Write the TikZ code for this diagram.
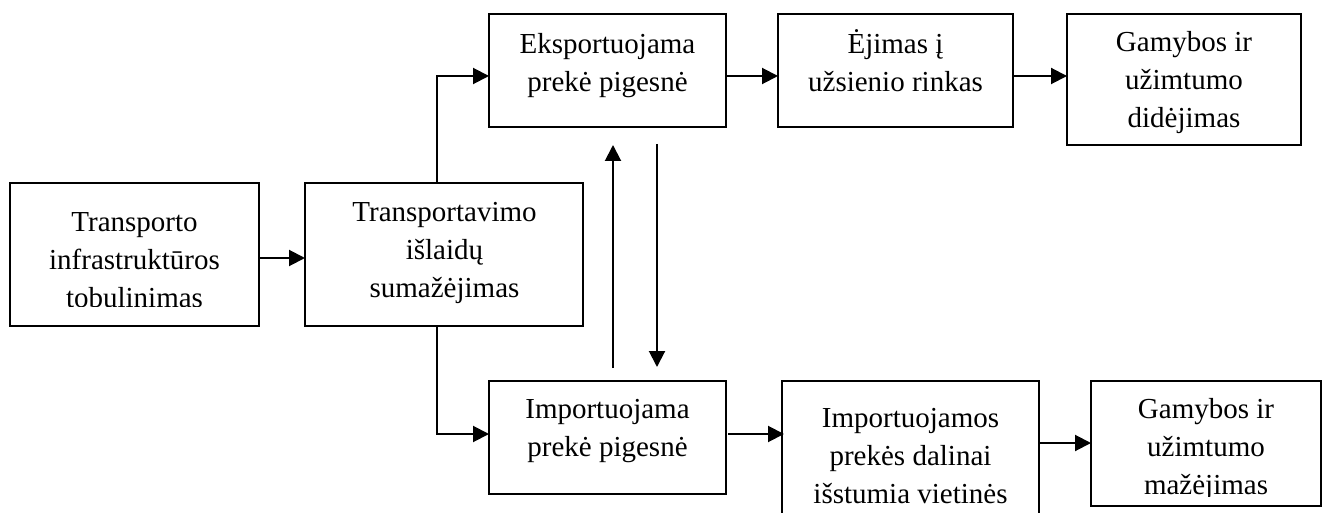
\documentclass[tikz,border=0pt]{standalone}
\usepackage{fontspec}
\setmainfont{Liberation Serif}
\usetikzlibrary{arrows.meta}
\tikzset{
  box/.style={draw, line width=1.6pt, inner sep=0pt, outer sep=0pt, rectangle},
  txt/.style={inner sep=0pt, outer sep=0pt, anchor=base, font=\fontsize{29}{38}\selectfont},
  arr/.style={line width=2pt, -{Triangle[length=16pt,width=16pt]}},
}
\newcommand{\lines}[1]{\begin{tabular}[t]{@{}c@{}}#1\end{tabular}}
\begin{document}
\begin{tikzpicture}[x=1pt,y=1pt]
\useasboundingbox (0,0) rectangle (1322,-513);
\clip (0,0) rectangle (1322,-513);
% boxes
\node[box, minimum width=249pt, minimum height=143pt] (b1) at (134.5,-254.5) {};
\node[box, minimum width=278pt, minimum height=143pt] (b2) at (444,-254.5) {};
\node[box, minimum width=237pt, minimum height=113pt] (b3) at (607.5,-70.5) {};
\node[box, minimum width=235pt, minimum height=113pt] (b4) at (895.5,-70.5) {};
\node[box, minimum width=234pt, minimum height=131pt] (b5) at (1184,-79.5) {};
\node[box, minimum width=237pt, minimum height=113pt] (b6) at (607.5,-437.5) {};
\node[box, minimum width=257pt, minimum height=179pt] (b7) at (910.5,-470.5) {};
\node[box, minimum width=230pt, minimum height=125pt] (b8) at (1206,-443.5) {};
% texts
\begin{scope}
\clip (10,-183) rectangle (259,-306);
\node[txt] (t1) at (134.5,-232) {\lines{Transporto\\infrastruktūros\\tobulinimas}};
\end{scope}
\node[txt] (t2) at (444.5,-222) {\lines{Transportavimo\\išlaidų\\sumažėjimas}};
\node[txt] (t3) at (607.5,-54) {\lines{Eksportuojama\\prekė pigesnė}};
\node[txt] (t4) at (895.5,-54) {\lines{Ėjimas į\\užsienio rinkas}};
\node[txt] (t5) at (1184,-52) {\lines{Gamybos ir\\užimtumo\\didėjimas}};
\node[txt] (t6) at (607.5,-418) {\lines{Importuojama\\prekė pigesnė}};
\node[txt] (t7) at (910.5,-427) {\lines{Importuojamos\\prekės dalinai\\išstumia vietinės}};
\begin{scope}
\clip (1091,-381) rectangle (1321,-496);
\node[txt] (t8) at (1206,-418) {\lines{Gamybos ir\\užimtumo\\mažėjimas}};
\end{scope}
% connectors
\draw[arr] ([yshift=-3.5pt]b1.east) -- ([yshift=-3.5pt]b2.west);
\draw[arr] ([xshift=-7pt]b2.north) |- ([yshift=-5.5pt]b3.west);
\draw[arr] ([xshift=-7pt]b2.south) |- ([yshift=3.5pt]b6.west);
\draw[arr] ([yshift=-5.5pt]b3.east) -- ([yshift=-5.5pt]b4.west);
\draw[arr] ([yshift=-5.5pt]b4.east) -- ([yshift=3.5pt]b5.west);
\draw[arr] ([xshift=2pt,yshift=3.5pt]b6.east) -- ([xshift=2pt,yshift=3.5pt]b6.east -| b7.west);
\draw[arr] ([yshift=0.5pt]b7.east |- b8.west) -- ([yshift=0.5pt]b8.west);
\draw[arr] ([xshift=5.5pt,yshift=13pt]b6.north) -- ([xshift=5.5pt,yshift=-18pt]b3.south);
\draw[arr] ([xshift=49.5pt,yshift=-17pt]b3.south) -- ([xshift=49.5pt,yshift=14pt]b6.north);
\end{tikzpicture}
\end{document}
